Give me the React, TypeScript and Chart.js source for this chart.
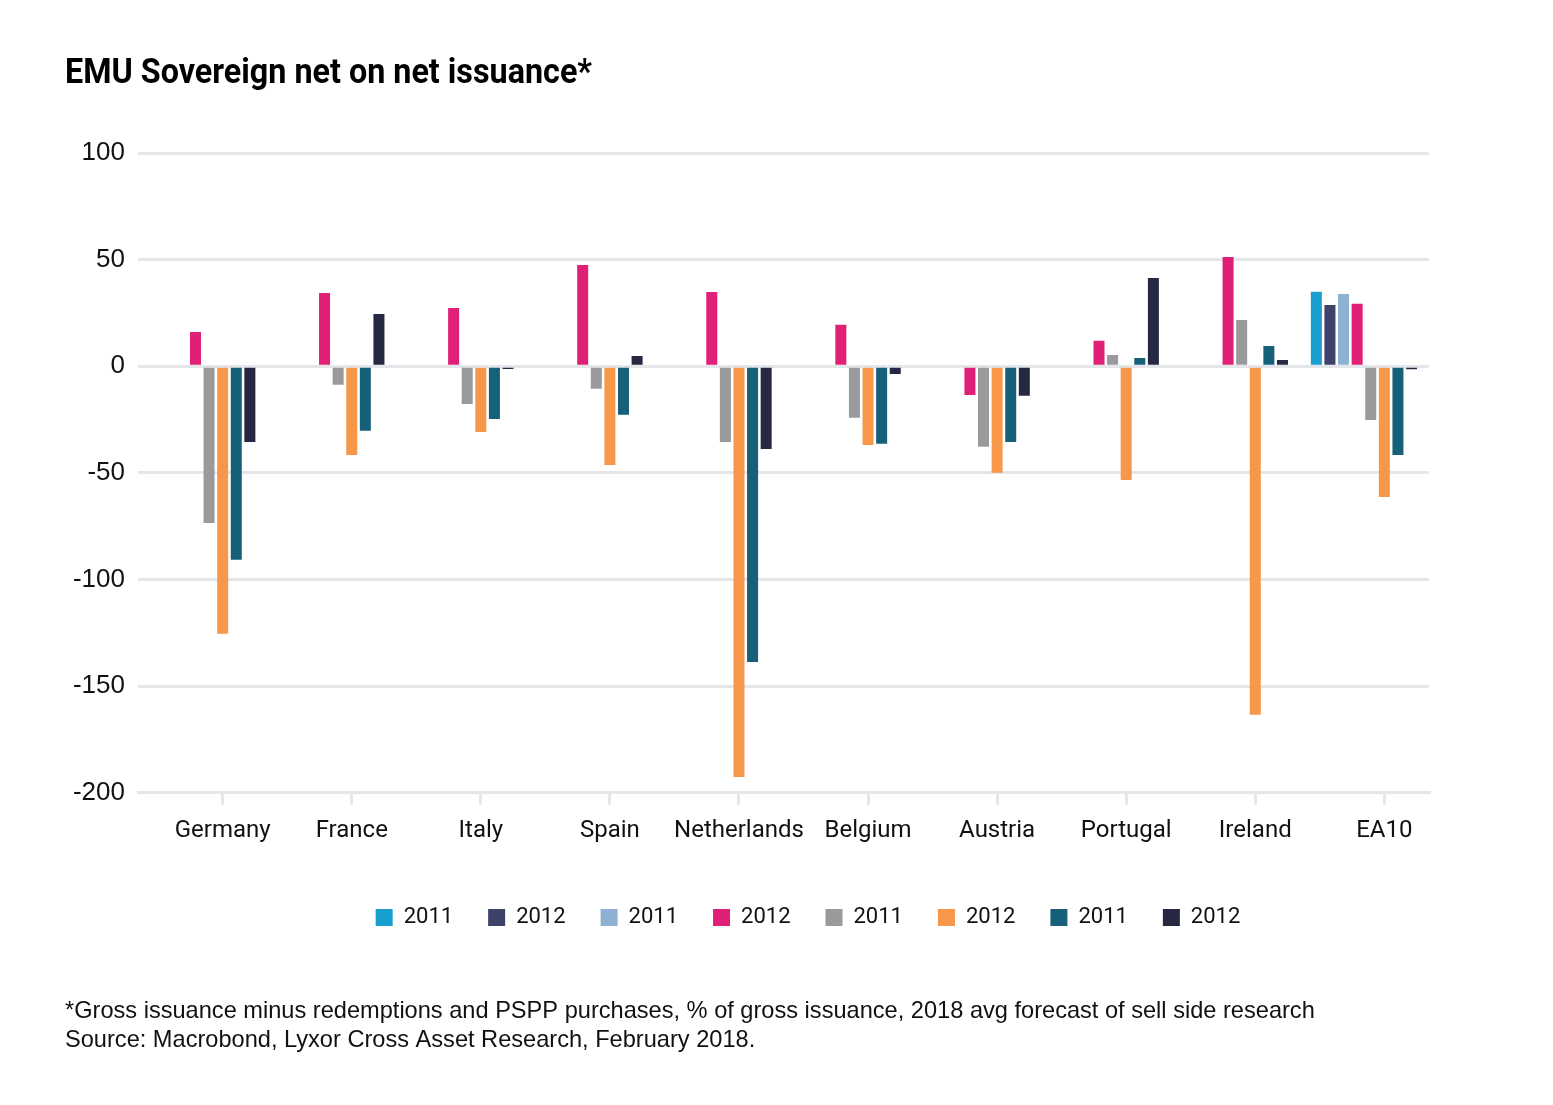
import React, { useEffect, useRef } from "react";
import { Chart, registerables } from "chart.js";

Chart.register(...registerables);

const categories = ["Germany", "France", "Italy", "Spain", "Netherlands", "Belgium", "Austria", "Portugal", "Ireland", "EA10"];
const seriesLabels = ["2011", "2012", "2011", "2012", "2011", "2012", "2011", "2012"];
const seriesColors = ["#189ecf", "#3d4269", "#8eb1d3", "#e01f76", "#9a9a9c", "#f6974a", "#17607a", "#262841"];

const s1 = [null, null, null, null, null, null, null, null, null, 34.9];
const s2 = [null, null, null, null, null, null, null, null, null, 28.7];
const s3 = [null, null, null, null, null, null, null, null, null, 33.9];
const s4 = [16.1, 34.4, 27.3, 47.5, 34.8, 19.4, -13.5, 11.9, 51.2, 29.3];
const s5 = [-73.5, -8.7, -17.7, -10.6, -35.5, -24.2, -37.8, 5.3, 21.7, -25.2];
const s6 = [-125.5, -41.6, -30.8, -46.3, -192.6, -36.9, -50, -53.3, -163.5, -61.3];
const s7 = [-90.8, -30.3, -24.7, -22.8, -138.7, -36.4, -35.5, 3.9, 9.5, -41.6];
const s8 = [-35.5, 24.5, -1.3, 4.8, -38.8, -3.6, -13.9, 41.4, 2.9, -1.4];
const seriesValues = [s1, s2, s3, s4, s5, s6, s7, s8];
// three empty trailing slots of the original grouping (no data)
const emptySlots = 3;

const yTicks = [-200, -150, -100, -50, 0, 50, 100];

const titleText = "EMU Sovereign net on net issuance*";
const footnotes = [
  "*Gross issuance minus redemptions and PSPP purchases, % of gross issuance, 2018 avg forecast of sell side research",
  "Source: Macrobond, Lyxor Cross Asset Research, February 2018.",
];

const FONT = "Roboto, 'Liberation Sans', Arial, sans-serif";
const FOOT_FONT = "'Liberation Sans', Arial, sans-serif";
const GRID = "#e4e6ea";

export default function App() {
  const ref = useRef<HTMLCanvasElement | null>(null);
  const titleRef = useRef<HTMLSpanElement | null>(null);
  useEffect(() => {
    if (titleRef.current) {
      const w = titleRef.current.getBoundingClientRect().width;
      if (w > 0) titleRef.current.style.transform = `scaleX(${527 / w})`;
    }
    if (!ref.current) return;
    const datasets: any[] = seriesValues.map((vals, si) => ({
      label: seriesLabels[si],
      data: vals.map((v, i) => ({ x: i, y: v })),
      backgroundColor: seriesColors[si],
      borderWidth: 0,
      categoryPercentage: 1.159,
      barPercentage: 0.81,
    }));
    for (let k = 0; k < emptySlots; k++) {
      datasets.push({
        label: "",
        data: categories.map((_, i) => ({ x: i, y: null })),
        backgroundColor: "transparent",
        categoryPercentage: 1.159,
        barPercentage: 0.81,
      });
    }
    const chart = new Chart(ref.current, {
      type: "bar",
      data: { datasets },
      options: {
        animation: false,
        responsive: false,
        layout: { padding: { left: 65, right: 2, top: 153, bottom: 0 } },
        scales: {
          x: {
            type: "linear",
            bounds: "data",
            min: -0.656,
            max: 9.346,
            offset: false,
            afterBuildTicks: (s: any) => {
              s.ticks = categories.map((_, i) => ({ value: i }));
            },
            afterFit: (s: any) => {
              s.height += 14;
            },
            ticks: {
              autoSkip: false,
              maxRotation: 0,
              padding: 12,
              color: "#111",
              font: { family: FONT, size: 24 },
              callback: (v: any) => categories[Math.round(Number(v))] ?? "",
            },
            grid: { offset: false, drawOnChartArea: false, drawTicks: true, tickLength: 12, color: GRID, lineWidth: 3 },
            border: { display: true, color: GRID, width: 3 },
          },
          y: {
            type: "linear",
            min: -200,
            max: 100,
            afterBuildTicks: (s: any) => {
              s.ticks = yTicks.map((v) => ({ value: v }));
            },
            afterFit: (s: any) => {
              s.width = 73;
            },
            ticks: { padding: 13, color: "#111", font: { family: FOOT_FONT, size: 26 } },
            grid: { color: GRID, lineWidth: 3, drawTicks: false },
            border: { display: false },
          },
          yRight: {
            type: "linear",
            position: "right",
            display: true,
            afterFit: (s: any) => {
              s.width = 122;
            },
            ticks: { display: false },
            grid: { display: false, drawTicks: false },
            border: { display: false },
          },
        },
        plugins: {
          tooltip: { enabled: false },
          title: { display: false },
          legend: {
            position: "bottom",
            labels: {
              filter: (item: any) => item.datasetIndex < seriesLabels.length,
              boxWidth: 17,
              boxHeight: 17,
              padding: 35,
              color: "#111",
              font: { family: FONT, size: 22 },
            },
          },
          subtitle: {
            display: true,
            position: "bottom",
            align: "start",
            text: footnotes,
            color: "#111",
            font: { family: FOOT_FONT, size: 23.6, lineHeight: 29 / 23.6 },
            padding: { top: 58.2, bottom: 50.3 },
          },
        },
      },
    });
    return () => chart.destroy();
  }, []);
  return (
    <div style={{ position: "fixed", left: 0, top: 0, width: 1553, height: 1105, background: "#fff" }}>
      <canvas ref={ref} width={1553} height={1105} style={{ display: "block", width: 1553, height: 1105 }} />
      <span
        ref={titleRef}
        style={{
          position: "absolute",
          left: 65,
          top: 52,
          whiteSpace: "nowrap",
          fontFamily: "Roboto, 'Liberation Sans', Arial, sans-serif",
          fontWeight: 700,
          fontSize: 35,
          lineHeight: "40px",
          color: "#000",
          transformOrigin: "0 50%",
          display: "inline-block",
        }}
      >
        {titleText}
      </span>
    </div>
  );
}
